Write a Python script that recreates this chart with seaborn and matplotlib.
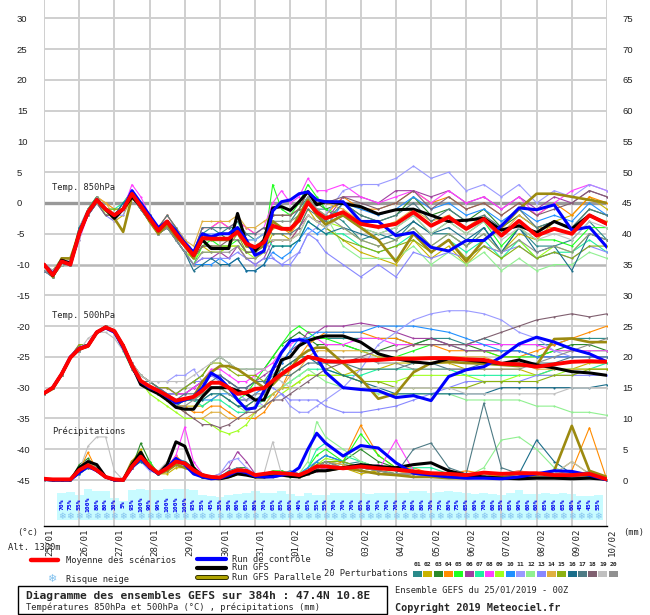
import matplotlib
matplotlib.use('Agg')
import matplotlib.pyplot as plt
import matplotlib.transforms as mtransforms
import matplotlib.patheffects as pe
from matplotlib.lines import Line2D
from matplotlib.patches import Rectangle
import seaborn as sns

# forecast steps: 6h up to 192h, then 12h up to 384h
HOURS = list(range(0, 193, 6)) + list(range(204, 385, 12))

T850_MEAN = [-10, -11.7, -9.5, -10, -5, -1.5, 0.5, -1, -2, -1, 1.5, -0.5, -2.5, -4.5, -3, -5, -6.8, -8.5,
             -5.7, -5.8, -5.8, -5.8, -4.7, -6.6, -7.2, -6.4, -3.7, -4.2, -4.2, -2.8, 0.1, -1.5, -2.5,
             -1.5, -3.4, -3.9, -3.4, -1.5, -3.7, -2.3, -4.2, -2.6, -5.3, -2.9, -5.3, -4.2, -5.0, -2.0, -3.4]
T850_CTRL = [-10, -11.5, -9.5, -10, -5, -1.5, 0.5, -1, -2, -1, 2, 0, -2, -4, -3, -4.5, -6.5, -8,
             -5, -5.5, -5, -5, -4, -6, -8.5, -7.8, -1.3, 0.2, 0.5, 1.5, 1.8, 0.5, 0.2,
             0.2, -3.0, -3.0, -5.3, -4.8, -7.2, -7.8, -6.1, -6.1, -3.7, -0.8, -1.1, -0.3, -4.4, -3.9, -7.2]
T850_GFS = [-10, -11.8, -9.3, -9.8, -5, -1.5, 0.5, -1, -2.5, -1, 1, -0.5, -2.5, -4.5, -3, -5, -6.5, -8.5,
            -6, -7.4, -7.4, -7.4, -1.7, -6.5, -7.8, -6, -0.8, -0.6, -1.2, 0.2, 1.8, -0.3, 0.2,
            -0.1, -0.6, -1.8, -1.1, -1.0, -2.0, -3.0, -2.8, -2.5, -4.4, -3.7, -4.8, -3.0, -4.2, -2.0, -3.4]
T850_PARA = [-10, -12, -9, -9, -5, -1.5, 0.3, -1.2, -2.5, -4.7, 1, -0.5, -3, -5, -3.5, -5.5, -7, -9,
             -5, -6, -6, -6, -4, -7, -7.5, -7, -3, -4, -4.5, -2, 0.5, -2, -3.5,
             -2, -4, -6, -9.5, -5, -8, -6, -9.5, -6, -4, -1, 1.5, 1.5, 1, 0.5, 0]
T850_PERT = [
    [-10, -12, -9, -10, -5, -1, 1, -1, -2, -1, 2, 0, -2, -4, -3, -4, -6, -8, -5, -4, -5, -4, -4, -5, -6, -5,
     -3, -3, -3, -1, 1, -1, -1, -3, -6, -5, -6, -3, -5, -5, -7, -4, -8, -4, -7, -7, -6, -3, -6],
    [-10, -11, -9, -9, -4, -2, 0, -1, -3, -2, 1, -1, -3, -5, -4, -6, -8, -9, -7, -8, -8, -7, -7, -9, -9, -8,
     -5, -5, -6, -4, -1, -3, -4, -6, -8, -9, -10, -6, -9, -7, -10, -7, -8, -5, -6, -3, -2, 1, -1],
    [-11, -12, -10, -10, -6, -1, 0, -2, -2, 0, 2, 0, -2, -5, -3, -5, -7, -9, -6, -6, -5, -6, -4, -7, -7, -6,
     -2, -2, -2, -1, 2, 0, -1, 0, -2, -3, -2, 1, -2, -1, -3, -1, -4, -2, -4, -3, -4, -1, -2],
    [-10, -12, -10, -10, -5, -2, 1, 0, -1, -1, 2, 0, -2, -4, -2, -4, -6, -8, -4, -4, -3, -4, -3, -4, -5, -4,
     -4, -4, -5, -3, 0, -1, -2, 1, -1, -1, 0, 2, 0, 1, -1, 0, -2, 0, -2, 0, -2, 1, 0],
    [-10, -11, -9, -10, -4, -1, 1, -1, -2, -1, 1, -1, -3, -5, -4, -6, -8, -10, -7, -6, -7, -7, -6, -8, -8, -7,
     3, -1, -2, 0, 3, 1, -1, -2, -4, -5, -4, -2, -5, -3, -5, -3, -7, -4, -6, -6, -7, -4, -4],
    [-11, -12, -10, -9, -5, -2, 0, -1, -2, -1, 1, -1, -3, -5, -4, -6, -8, -10, -9, -9, -8, -9, -7, -9, -10, -9,
     -6, -6, -6, -4, -2, -3, -3, 1, 1, 0, 2, 2, 1, 2, 0, 1, -1, 1, -1, 1, 0, 2, 1],
    [-10, -12, -9, -10, -5, -1, 1, -1, -1, 0, 2, 0, -2, -4, -3, -4, -6, -8, -5, -5, -5, -5, -3, -6, -6, -5,
     -7, -7, -7, -6, -3, -4, -5, -5, -7, -8, -7, -5, -8, -6, -8, -6, -9, -6, -9, -8, -8, -6, -8],
    [-10, -11, -10, -10, -6, -2, 0, -1, -3, -1, 3, 1, -2, -4, -2, -4, -6, -8, -4, -4, -3, -4, -3, -4, -5, -4,
     0, 2, 0, 1, 4, 2, 2, 3, 1, 0, 1, 2, 0, 2, 0, 1, -1, 1, -2, 0, 2, 3, 2],
    [-10, -12, -9, -9, -5, -1, 1, -2, -2, -1, 1, -1, -3, -5, -4, -6, -8, -9, -8, -8, -8, -7, -7, -8, -9, -8,
     -4, -4, -4, -3, 0, -2, -3, -4, -6, -7, -6, -4, -7, -5, -7, -5, -8, -6, -9, -7, -8, -5, -6],
    [-11, -12, -10, -10, -5, -2, 0, -1, -2, 0, 1, -1, -3, -5, -3, -6, -8, -10, -10, -10, -9, -10, -9, -11, -11, -10,
     -8, -9, -8, -6, -4, -5, -4, 0, -1, -2, -1, 1, -1, 0, -2, -1, -3, -1, -3, -2, -3, 0, -2],
    [-10, -11, -9, -10, -4, -1, 0, -1, -2, -2, 2, 0, -2, -4, -3, -4, -6, -8, -5, -5, -5, -5, -4, -6, -6, -5,
     -9, -10, -9, -8, -5, -4, -2, 2, 3, 3, 4, 6, 4, 5, 2, 3, 1, 3, 0, 2, 1, 3, 2],
    [-10, -12, -10, -10, -5, -2, 1, -1, -2, -1, 2, 0, -3, -4, -3, -5, -7, -9, -6, -6, -6, -6, -5, -7, -7, -6,
     -3, -3, -3, -2, 1, -1, -2, -7, -9, -9, -9, -7, -10, -8, -10, -8, -11, -9, -11, -10, -10, -8, -9],
    [-11, -12, -9, -10, -6, -1, 0, -2, -3, -1, 1, -1, -3, -5, -4, -6, -8, -10, -9, -9, -9, -9, -8, -9, -10, -9,
     -9, -10, -10, -8, -5, -6, -8, -10, -12, -10, -12, -8, -9, -8, -9, -7, -8, -7, -9, -8, -9, -7, -8],
    [-10, -11, -9, -9, -5, -2, 1, 0, -2, -1, 2, 0, -2, -4, -2, -4, -6, -7, -3, -3, -3, -3, -2, -4, -4, -3,
     -2, -2, -2, -1, 2, 0, 0, -1, -3, -4, -3, -1, -3, -2, -4, -2, -5, -2, -4, -4, -5, -2, -3],
    [-10, -12, -10, -10, -5, -1, 0, -1, -1, -1, 1, -1, -3, -5, -3, -5, -7, -9, -7, -7, -7, -7, -5, -8, -8, -7,
     -6, -6, -6, -5, -2, -3, -4, -6, -7, -8, -7, -6, -8, -6, -9, -7, -9, -7, -9, -8, -9, -7, -7],
    [-11, -12, -9, -10, -4, -2, 0, -1, -2, 0, 1, -1, -3, -5, -4, -6, -8, -11, -10, -9, -10, -10, -9, -11, -11, -10,
     -7, -7, -7, -6, -3, -4, -5, -4, -5, -6, -5, -3, -5, -4, -6, -4, -8, -4, -8, -7, -11, -5, -6],
    [-10, -11, -10, -10, -5, -1, 1, -1, -2, -1, 2, 0, -2, -4, -2, -4, -7, -8, -4, -4, -4, -4, -3, -5, -5, -4,
     -5, -5, -5, -4, -1, -2, -3, 0, -2, -3, -2, 0, -3, -1, -3, -2, -4, -1, -4, -3, -4, -1, -2],
    [-10, -12, -9, -10, -5, -2, 0, -2, -2, -1, 1, -1, -3, -5, -3, -5, -7, -9, -7, -7, -7, -6, -6, -8, -8, -7,
     -2, -2, -2, -1, 2, 0, 0, 1, 0, -1, 0, 2, -1, 1, -1, 0, -2, 0, -2, -1, 0, 2, 1],
    [-10, -11, -10, -9, -6, -1, 0, -1, -3, -1, 2, 0, -3, -5, -3, -5, -7, -9, -6, -6, -6, -6, -5, -7, -7, -6,
     -6, -6, -6, -5, -2, -3, -4, -2, -4, -5, -4, -2, -5, -3, -5, -3, -6, -4, -6, -5, -6, -3, -4],
    [-11, -12, -9, -10, -5, -2, 1, -1, -2, -1, 1, -1, -3, -5, -4, -6, -8, -10, -8, -8, -8, -8, -7, -9, -9, -8,
     -3, -3, -3, -2, 1, -1, -2, -4, -6, -7, -6, -4, -7, -5, -7, -5, -8, -6, -8, -7, -8, -5, -6],
]

T500_MEAN = [-30.9, -30, -27.8, -25.1, -23.7, -23.2, -21, -20.2, -20.8, -23.2, -26.4, -28.9, -29.8, -30.5,
             -31.3, -32.1, -31.8, -31.5, -30.5, -29.2, -29.2, -30, -31, -30.8, -30.2, -30.1, -28.9, -27.8,
             -26.8, -26, -25, -25.3, -25.7, -25.8, -25.6, -25.5, -25.3, -25.3, -25.2, -25.2, -25.4, -25.5,
             -26.1, -26.2, -26.6, -26.2, -25.8, -25.7, -25.8]
T500_CTRL = [-30.9, -30, -27.8, -25, -23.6, -23.1, -21, -20.3, -21, -23.5, -26.5, -29, -30, -30.5, -31.5,
             -32.5, -32, -31.5, -30, -27.6, -28.5, -30, -32, -33.5, -33.3, -30.5, -27, -24.3, -22.4, -22.2,
             -22.5, -25, -27.5, -30, -30.3, -30.5, -31.6, -31.3, -32.1, -28.2, -27.1, -26.6, -25, -22.9,
             -21.8, -22.6, -23.7, -24.5, -25.8]
T500_GFS = [-30.9, -30, -27.8, -25.1, -23.7, -23.2, -21, -20.2, -20.8, -23.2, -26.4, -29.5, -30.3, -31, -32,
            -33.2, -33.5, -33.5, -31.5, -30, -30, -30, -30.5, -31, -32, -32, -29, -25.5, -25, -23.2, -22.4,
            -21.9, -21.6, -21.6, -22.6, -24.5, -25.3, -25.8, -26.1, -25.3, -25.5, -25.8, -26.1, -25.5,
            -26.3, -26.8, -27.4, -27.6, -28.0]
T500_PARA = [-31, -30.2, -27.9, -25.2, -23.8, -23.3, -21.1, -20.3, -20.9, -23.4, -26.5, -29, -30, -30.5,
             -31.5, -32.5, -32, -31.5, -29, -27.5, -26.5, -26.5, -27, -28, -29, -30, -29.5, -28, -27, -25,
             -24, -23.5, -23.5, -26, -28.5, -31.8, -31, -27.5, -26, -25.8, -26, -26.1, -26.3, -26.5, -26.3,
             -22.1, -22, -22.6, -22.6]
T500_PERT = [
    [-31, -30, -28, -25, -24, -23, -21, -20, -21, -23, -26, -28, -29, -30, -31, -31, -31, -30, -29, -28, -28, -29,
     -30, -30, -29, -29, -27, -26, -24, -23, -22, -22, -22, -22, -22, -22, -22, -23, -22, -22, -23, -22, -23, -23,
     -23, -23, -22, -22, -22],
    [-31, -30, -28, -25, -24, -23, -21, -20, -21, -23, -27, -29, -30, -31, -32, -33, -33, -33, -33, -32, -31, -32,
     -33, -33, -32, -32, -31, -30, -30, -29, -28, -28, -28, -28, -27, -27, -26, -26, -26, -26, -27, -27, -27, -27,
     -28, -27, -27, -26, -26],
    [-31, -30, -28, -25, -23, -23, -21, -20, -21, -23, -26, -28, -29, -30, -30, -31, -30, -29, -28, -26, -25, -26,
     -27, -27, -27, -27, -25, -23, -22, -21, -22, -23, -23, -23, -24, -24, -23, -23, -22, -23, -23, -24, -24, -24,
     -25, -24, -23, -23, -24],
    [-31, -30, -28, -25, -24, -23, -21, -20, -21, -23, -27, -29, -30, -31, -32, -33, -33, -34, -34, -33, -33, -34,
     -35, -35, -35, -34, -32, -30, -27, -25, -23, -22, -21, -21, -21, -22, -22, -23, -23, -24, -24, -24, -25, -25,
     -24, -23, -22, -21, -20],
    [-31, -30, -28, -25, -24, -23, -21, -20, -21, -24, -27, -29, -30, -31, -32, -32, -32, -32, -31, -30, -30, -31,
     -32, -31, -29, -27, -25, -23, -21, -20, -21, -22, -22, -23, -24, -25, -25, -24, -23, -23, -24, -24, -25, -25,
     -25, -24, -24, -24, -24],
    [-31, -30, -28, -25, -24, -23, -21, -20, -21, -23, -26, -29, -30, -30, -31, -31, -31, -30, -29, -28, -28, -29,
     -30, -30, -29, -28, -27, -26, -24, -23, -21, -21, -20, -20, -19.5, -20, -21, -22, -22, -23, -24, -24, -24,
     -24, -25, -25, -25, -25, -25],
    [-31, -30, -28, -25, -24, -23, -21, -20, -21, -23, -27, -29, -30, -31, -32, -33, -32, -32, -33, -32, -32, -33,
     -34, -34, -33, -32, -31, -30, -29, -28, -27, -27, -27, -28, -28, -27, -27, -27, -27, -27, -28, -28, -28, -28,
     -28, -27, -27, -27, -26],
    [-31, -30, -28, -25, -23, -23, -21, -20, -21, -23, -26, -28, -29, -30, -30, -31, -31, -30, -29, -27, -27, -28,
     -29, -29, -28, -27, -26, -24, -23, -22, -22, -22, -23, -23, -22, -22, -23, -23, -23, -23, -23, -23, -23, -23,
     -23, -24, -24, -24, -24],
    [-31, -30, -28, -25, -24, -23, -21, -20, -21, -23, -27, -29, -31, -32, -33, -34, -35, -35, -35, -36, -37, -37.5,
     -37, -36, -34, -33, -32, -31, -30, -29, -28, -28, -28, -28, -29, -29, -29, -28, -28, -28, -28, -29, -29, -28,
     -28, -28, -27, -27, -27],
    [-31, -30, -28, -25, -24, -23, -21, -20, -21, -23, -27, -29, -30, -31, -31, -32, -32, -32, -32, -32, -31, -31,
     -32, -32, -31, -30, -28, -26, -24, -22, -22, -21, -21, -21, -21, -20, -20, -20, -20.5, -21, -22, -23, -24,
     -24, -25, -25, -25, -25, -25],
    [-31, -30, -28, -25, -24, -23, -21, -20, -21, -23, -26, -28, -29, -29, -29, -28, -28, -27, -29, -30, -30, -30,
     -31, -32, -32, -33, -32, -31, -33, -34, -34, -33, -32, -30, -27, -23, -21, -19, -18, -17.5, -17.5, -18, -19,
     -21, -22, -24, -25, -25, -25],
    [-31, -30, -28, -25, -24, -23, -21, -20, -21, -23, -27, -29, -30, -31, -32, -33, -32, -32, -32, -31, -31, -32,
     -33, -34, -33, -33, -31, -30, -29, -28, -27, -28, -29, -30, -30, -31, -31, -31, -31, -31, -32, -32, -32, -32,
     -33, -33, -34, -34, -34.5],
    [-31, -30, -28, -25, -24, -23, -21, -20, -21, -23, -26, -29, -30, -30, -31, -31, -30, -29, -29, -28, -29, -30,
     -31, -31, -30, -30, -30, -31, -32, -32, -32, -32, -33, -34, -34, -33.5, -33, -32, -31, -30, -29, -29, -29,
     -29, -28, -28, -28, -28, -28],
    [-31, -30, -28, -25, -24, -23, -21, -20, -21, -23, -27, -29, -30, -31, -32, -33, -34, -35, -35, -34, -34, -35,
     -35, -35, -34, -33, -31, -30, -28, -27, -25, -24, -24, -24, -24, -25, -25, -25, -25, -25, -25, -25, -26, -26,
     -27, -27, -27, -27, -27],
    [-31, -30, -28, -25, -23, -23, -21, -20, -21, -23, -26, -28, -29, -30, -30, -31, -30, -29, -28, -26, -26, -27,
     -28, -28, -28, -29, -28, -27, -26, -25, -25, -25, -26, -28, -29, -29, -30, -30, -30, -30, -30, -29, -29, -29,
     -29, -28, -28, -27, -27],
    [-31, -30, -28, -25, -24, -23, -21, -20, -21, -23, -27, -29, -30, -31, -32, -33, -32, -32, -32, -31, -31, -32,
     -33, -33, -32, -31, -29, -27, -26, -25, -25, -26, -27, -28, -29, -30, -31, -31, -31, -31, -31, -31, -30, -30,
     -30, -30, -30, -30, -29.5],
    [-31, -30, -28, -25, -24, -23, -21, -20, -21, -23, -26, -29, -29, -30, -31, -32, -31, -31, -30, -29, -28, -29,
     -30, -30, -29, -29, -29, -28, -28, -27, -26, -26, -26, -26, -27, -27, -27, -26, -26, -27, -27, -26, -26, -26,
     -26, -26, -25, -25, -25],
    [-31, -30, -28, -25, -24, -23, -21, -20, -21, -23, -27, -29, -30, -31, -32, -33, -34, -35, -36, -36, -36.5, -36,
     -35, -34, -34, -33, -32, -32, -31, -30, -29, -28, -27, -26, -25, -24, -24, -23, -23, -23, -23, -22, -21, -20,
     -19, -18.5, -18, -18.5, -18],
    [-31, -30, -28, -25, -24, -22, -21, -21, -22, -24, -26, -28, -29, -29, -29, -29, -29, -28, -27, -26, -25, -26,
     -27, -27, -27, -27, -28, -29, -30, -30, -30, -30, -30, -30, -30, -30, -30, -30, -30, -30, -31, -31, -31, -31,
     -31, -31, -30, -30, -30],
    [-31, -30, -28, -25, -24, -23, -21, -20, -21, -23, -27, -29, -30, -31, -32, -33, -33, -32, -31, -30, -30, -31,
     -32, -32, -31, -31, -29, -28, -27, -26, -25, -25, -25, -25, -25, -26, -26, -27, -27, -27, -27, -27, -27, -27,
     -26, -25, -24, -23, -22],
]

PRECIP_MEAN = [0.2, 0.1, 0.1, 0.1, 1.6, 2.4, 1.6, 0.5, 0.1, 0, 2.2, 3.8, 2.2, 1.1, 1.9, 3.0, 2.7, 1.6,
               0.8, 0.5, 0.4, 1.1, 1.6, 1.5, 0.8, 1.0, 1.2, 1.1, 1.0, 0.8, 1.4, 2.2, 2.2,
               1.9, 2.2, 1.9, 1.7, 1.4, 1.1, 1.0, 0.8, 1.2, 1.0, 1.1, 1.1, 0.8, 0.8, 1.0, 0.1]
PRECIP_CTRL = [0.1, 0, 0, 0, 1.2, 2.2, 1.5, 0.5, 0, 0, 2, 3.5, 2, 1, 2, 3.5, 2.5, 1,
               0.5, 0.2, 0.3, 0.8, 1.5, 1.2, 0.6, 0.5, 0.5, 0.8, 1, 2, 5, 7.6, 6,
               3.9, 5.6, 5.2, 2.8, 1.1, 0.8, 0.5, 0.3, 0.3, 0.2, 0.5, 1, 1.5, 1.4, 0.8, 0]
PRECIP_GFS = [0.1, 0, 0, 0, 2, 3, 2.5, 0.5, 0, 0, 2.5, 4.5, 2, 1, 2.5, 6.2, 5.5, 2,
              0.5, 0.3, 0.2, 0.5, 1, 0.8, 0.5, 0.5, 0.6, 0.8, 0.6, 0.5, 1, 1.5, 1.5,
              2, 2.5, 2.2, 2, 2.5, 2.8, 1.5, 0.8, 0.5, 0.3, 0.2, 0.3, 0.3, 0.2, 0.3, 0.1]
PRECIP_PARA = [0.1, 0, 0, 0, 1.5, 2.5, 1.5, 0.5, 0, 0, 3, 4, 2.5, 1, 1.5, 2.5, 2, 1.5,
               0.5, 0.3, 0.2, 0.5, 1, 1, 0.5, 0.5, 0.8, 1, 0.8, 0.5, 1, 1.5, 1.5,
               2, 1.5, 1, 0.8, 0.5, 0.5, 0.3, 0.3, 0.5, 0.5, 0.5, 0.8, 1.5, 8.8, 1.5, 0.5]
PRECIP_PERT = [
    [0, 0, 0, 0, 1, 2, 2, 0.5, 0, 0, 2, 4, 2, 1, 1.5, 3, 2.5, 1, 0.5, 0.3, 0.5, 1.5, 2, 1.5, 1, 1,
     1, 1.5, 1, 0.5, 1, 2, 3, 2.5, 3, 2, 1.5, 1.5, 1, 1, 0.5, 0.5, 0.8, 1, 1, 0.5, 0.5, 1, 0],
    [0, 0, 0, 0, 2, 3, 1.5, 0.5, 0, 0, 3, 5, 2, 1, 1, 2, 2, 1.5, 1, 0.5, 0.3, 1, 1.5, 1, 0.5, 0.5,
     0.5, 1, 1, 1, 1.5, 2, 2.5, 2, 1, 1.5, 2, 1, 1, 0.5, 0.5, 1, 0.5, 0.5, 0.5, 1, 3, 1, 0],
    [0, 0, 0, 0, 2.5, 3.5, 2, 0.5, 0, 0, 2, 6, 3, 1, 2, 3.5, 3, 2, 0.5, 0.5, 0.5, 1, 2, 2, 0.5, 0.5,
     1, 1, 0.5, 0.5, 1.5, 3, 4, 3, 5, 3, 2, 1.5, 1, 0.5, 0.5, 1, 1, 0.5, 0.5, 0.5, 0.5, 0.5, 0],
    [0, 0, 0, 0, 1.5, 4.5, 1.5, 0.5, 0, 0, 2, 3.5, 2, 1, 2, 4, 2.5, 1.5, 0.5, 0.3, 0.3, 1, 1.5, 1, 0.5, 0.5,
     1, 1, 1.5, 1, 1, 2, 2, 3, 8.9, 4, 2, 2, 1, 1, 1.5, 1, 0.5, 0.5, 0.5, 1, 1.5, 8.5, 0],
    [0, 0, 0, 0, 1, 2, 2, 0.5, 0, 0, 2.5, 4, 3, 1, 2, 3, 3, 2, 1, 0.5, 0.5, 1, 1.5, 1, 1, 1,
     1.5, 1.5, 1, 0.5, 2, 4, 5, 3, 7.5, 4, 2, 1.5, 1, 0.5, 0.5, 0.5, 0.5, 0.5, 0.5, 0.5, 1, 0.5, 0],
    [0, 0, 0, 0, 1.5, 2, 1.5, 0.5, 0, 0, 2, 4, 2, 1, 2, 3, 3, 2, 1, 0.5, 1, 2, 4.6, 3, 1, 1,
     1, 1, 1, 0.5, 1, 1.5, 2, 2, 2, 2.5, 1.5, 1, 1, 0.5, 0.5, 0.5, 0.5, 0.5, 0.5, 0.5, 0.5, 0.5, 0],
    [0, 0, 0, 0, 1, 2.5, 2, 0.5, 0, 0, 2, 3, 2, 1, 2, 3, 3, 2, 0.5, 0.5, 0.5, 1, 1.5, 1, 1, 1,
     1, 1, 1, 1, 2, 5, 6, 4, 3, 2, 1.5, 2, 2, 1, 1, 0.5, 0.5, 0.5, 0.5, 0.5, 0.5, 0.5, 0],
    [0, 0, 0, 0, 2, 2.5, 1.5, 0.5, 0, 0, 2, 4, 2, 1, 2, 4, 8.6, 3, 1, 0.5, 0.5, 1, 2, 1.5, 1, 1,
     1, 1, 1, 0.5, 1, 1.5, 2, 2, 2, 1.5, 6.5, 1.5, 1, 0.5, 0.5, 1, 1, 1.5, 1, 0.5, 0.5, 0.5, 0],
    [0, 0, 0, 0, 1.5, 2, 1.5, 0.5, 0, 0, 2.5, 3.5, 2, 1, 1.5, 2.5, 2, 1.5, 0.5, 0.5, 0.5, 1, 1.5, 1, 1, 1,
     1, 1, 1, 0.5, 1.5, 2.5, 3.5, 3, 2, 1.5, 1, 1, 1, 0.5, 0.5, 0.5, 0.5, 0.5, 0.5, 0.5, 0.5, 0.5, 0],
    [0, 0, 0, 0, 1.5, 3, 2, 0.5, 0, 0, 2, 4.5, 2.5, 1, 2, 3.5, 3, 2, 0.5, 0.5, 0.5, 1, 2, 1.5, 1, 0.5,
     1, 1, 1.5, 1, 2, 3, 4, 3, 2, 1.5, 1, 1, 1, 1, 0.5, 0.5, 0.5, 0.5, 0.5, 0.5, 0.5, 0.5, 0],
    [0, 0, 0, 0, 1, 2, 1.5, 0.5, 0, 0, 2, 3, 1.5, 1, 2, 3, 2.5, 2, 1, 0.5, 1, 3, 3.5, 2, 1, 1,
     1, 1, 1, 0.5, 1, 2, 2, 2, 1.5, 1, 1, 0.5, 0.5, 0.5, 0.5, 0.5, 0.5, 1, 1, 1, 0.5, 0.5, 0],
    [0, 0, 0, 0, 1.5, 2.5, 2, 0.5, 0, 0, 2.5, 4, 2, 1, 2, 3, 3, 1.5, 0.5, 0.5, 0.5, 1, 1.5, 1, 1, 1,
     1, 1, 1, 1, 3, 9.5, 7, 5, 3, 2, 1, 1, 1, 0.5, 0.5, 2, 6.5, 7, 5, 2, 1, 0.5, 0],
    [0, 0, 0, 0, 1, 2, 2, 0.5, 0, 0, 2, 3.5, 2, 1, 1.5, 2.5, 2, 1.5, 0.5, 0.5, 0.5, 1, 1.5, 1, 1, 1,
     1, 1, 1, 0.5, 1, 2, 2.5, 2, 1.5, 1, 1, 0.5, 1, 1, 0.5, 0.5, 0.5, 0.5, 0.5, 1, 1, 0.5, 0],
    [0, 0, 0, 0, 2, 3, 2, 0.5, 0, 0, 2, 4, 2, 1, 2, 3, 2.5, 1.5, 0.5, 0.5, 0.5, 1, 1.5, 1, 1, 1,
     1, 1, 1, 0.5, 1, 2, 3, 2.5, 2, 1.5, 1, 1.5, 1, 1, 0.5, 1, 1, 1.5, 1, 1, 0.5, 0.5, 0],
    [0, 0, 0, 0, 1.5, 2.5, 1.5, 0.5, 0, 0, 2, 3.5, 2, 1, 2, 3, 3, 2, 1, 0.5, 0.5, 1, 1.5, 1, 1, 1,
     1, 1, 1, 0.5, 1.5, 2.5, 3, 3, 2, 1.5, 1, 1, 1, 0.5, 0.5, 0.5, 0.5, 0.5, 0.5, 0.5, 0.5, 1, 0],
    [0, 0, 0, 0, 1, 2, 1.5, 0.5, 0, 0, 2, 3, 2, 1, 2, 3, 3, 2, 1, 0.5, 0.5, 1, 1.5, 1, 1, 1,
     1, 1, 1, 0.5, 1, 2, 3, 2, 1.5, 1, 1, 1, 1, 1, 1, 0.5, 0.5, 1, 6.5, 3, 1, 0.5, 0],
    [0, 0, 0, 0, 1.5, 2.5, 2, 0.5, 0, 0, 2.5, 4, 2, 1, 2, 3, 2.5, 2, 1, 0.5, 0.5, 1, 2, 1.5, 1, 1,
     1, 1, 1, 0.5, 1, 2, 2.5, 2, 2, 1.5, 1, 5, 6, 2, 1, 12.5, 2, 1, 0.5, 0.5, 0.5, 0.5, 0],
    [0, 0, 0, 0, 1.5, 2, 1.5, 0.5, 0, 0, 2, 3.5, 2, 1, 1.5, 2.5, 2.5, 1.5, 0.5, 0.5, 0.5, 1, 1.5, 1, 1, 1,
     1, 1, 1, 0.5, 1, 2, 2.5, 2, 1.5, 1, 1, 1, 1, 0.5, 0.5, 0.5, 0.5, 0.5, 0.5, 0.5, 0.5, 1, 0],
    [0, 0, 0, 0, 1.5, 5.5, 7, 7, 1.5, 0, 2, 3.5, 2, 1.5, 3, 3, 2, 1.5, 0.5, 0.5, 0.5, 1, 1.5, 1, 1, 1,
     6.2, 1, 1, 0.5, 1, 2, 2.5, 2, 1.5, 1, 1, 1, 1, 1, 1, 1, 1, 1, 1, 1, 3, 1, 0],
    [0, 0, 0, 0, 1.5, 2.5, 2, 0.5, 0, 0, 2, 4, 2, 1, 2, 3, 2.5, 1.5, 1, 0.5, 0.5, 1, 2, 1.5, 1, 1,
     1, 1, 1, 0.5, 1, 2, 3, 2, 2, 1.5, 1, 1, 1, 1, 0.5, 0.5, 0.5, 0.5, 0.5, 0.5, 0.5, 1.5, 0],
]

SNOW_HOURS = list(range(12, 379, 6))
SNOW_PCT = [70, 75, 55, 100, 80, 80, 30, 5, 95, 100, 90, 90, 100, 100, 100, 95, 55, 45, 35, 50,
            60, 65, 80, 70, 65, 85, 60, 40, 65, 55, 55,
            70, 70, 70, 65, 60, 70, 70, 70, 70, 80, 80, 70, 75, 80, 75, 65, 60, 70, 60, 55, 65, 90,
            60, 60, 65, 60, 65, 60, 45, 45, 55]

DATE_HOURS = list(range(0, 385, 24))
DATE_LABELS = ['25/01', '26/01', '27/01', '28/01', '29/01', '30/01', '31/01', '01/02', '02/02',
               '03/02', '04/02', '05/02', '06/02', '07/02', '08/02', '09/02', '10/02']
LEFT_TICKS = [30, 25, 20, 15, 10, 5, 0, -5, -10, -15, -20, -25, -30, -35, -40, -45]
RIGHT_TICKS = [75, 70, 65, 60, 55, 50, 45, 40, 35, 30, 25, 20, 15, 10, 5, 0]
PERT_NAMES = ['01', '02', '03', '04', '05', '06', '07', '08', '09', '10',
              '11', '12', '13', '14', '15', '16', '17', '18', '19', '20']

PERT_COLORS = ['#2a8a8a', '#c8b400', '#2a8a2a', '#ff8c00', '#20ff20', '#a040a0', '#20f0a0', '#ff40ff',
               '#a0ff20', '#2090ff', '#9a9aff', '#90f090', '#8888ff', '#e0b040', '#8cb010', '#1a6e8a',
               '#4e7b85', '#806070', '#c0c0c0', '#909090']
OLIVE = '#9c8a10'
MONO = 'DejaVu Sans Mono'

sns.set_style('white')
plt.rcParams['font.family'] = [MONO]

W, H = 650, 615
fig = plt.figure(figsize=(W / 100, H / 100), dpi=100)


def fx(px):
    return px / W


def fy(py):
    return 1 - py / H


YLO, YHI = -52.47, 32.97
ax = fig.add_axes([fx(44), fy(526), fx(607) - fx(44), fy(0) - fy(526)])
ax2 = ax.twinx()

# grid
for v in LEFT_TICKS:
    if v == 0:
        ax.axhline(v, color='#999999', lw=2.4, zorder=0)
    elif v == -10:
        ax.axhline(v, color='#b8b8b8', lw=1.8, zorder=0)
    else:
        ax.axhline(v, color='#cfcfcf', lw=1.4, zorder=0)
for h in DATE_HOURS:
    ax.axvline(h, color='#cfcfcf', lw=1.4, zorder=0)

thin = dict(linewidth=0.8, marker='.', markersize=3, markeredgewidth=0, legend=False)
for series in (T850_PERT, T500_PERT):
    for vals, c in zip(series, PERT_COLORS):
        sns.lineplot(x=HOURS, y=vals, ax=ax, color=c, zorder=2, **thin)
for vals, c in zip(PRECIP_PERT, PERT_COLORS):
    sns.lineplot(x=HOURS, y=vals, ax=ax2, color=c, zorder=2, **thin)

for target, para, gfs, ctrl, mean in ((ax, T850_PARA, T850_GFS, T850_CTRL, T850_MEAN),
                                      (ax, T500_PARA, T500_GFS, T500_CTRL, T500_MEAN),
                                      (ax2, PRECIP_PARA, PRECIP_GFS, PRECIP_CTRL, PRECIP_MEAN)):
    sns.lineplot(x=HOURS, y=para, ax=target, color=OLIVE, linewidth=1.9, legend=False, zorder=3)
    sns.lineplot(x=HOURS, y=gfs, ax=target, color='black', linewidth=2.2, legend=False, zorder=4)
    sns.lineplot(x=HOURS, y=ctrl, ax=target, color='#0000ff', linewidth=2.2, legend=False, zorder=5)
    sns.lineplot(x=HOURS, y=mean, ax=target, color='#ff0000', linewidth=2.8, legend=False, zorder=6)

for a, lo, hi in ((ax, YLO, YHI), (ax2, YLO + 45, YHI + 45)):
    a.set_xlim(0, 384)
    a.set_ylim(lo, hi)
    a.set_xticks([])
    a.set_xlabel('')
    a.set_ylabel('')
    for s in a.spines.values():
        s.set_visible(False)
ax.spines['bottom'].set_visible(True)
ax.spines['bottom'].set_color('black')
ax.spines['bottom'].set_linewidth(1.0)
ax.patch.set_alpha(0)

ax.set_yticks(LEFT_TICKS)
ax.set_yticklabels([str(v) for v in LEFT_TICKS], family='Liberation Sans', fontsize=6.8, color='#222222')
ax.tick_params(axis='y', length=0, pad=19.5)
for t in ax.get_yticklabels():
    t.set_ha('left')
ax2.set_yticks(RIGHT_TICKS)
ax2.set_yticklabels([str(v) for v in RIGHT_TICKS], family='Liberation Sans', fontsize=6.8, color='#222222')
ax2.tick_params(axis='y', length=0, pad=11)

# snow risk strip
axs = fig.add_axes([fx(44), fy(520), fx(607) - fx(44), fy(489) - fy(520)])
axs.set_xlim(0, 384)
axs.set_ylim(-150, 100)
axs.axis('off')
axs.fill_between([SNOW_HOURS[0] - 3, SNOW_HOURS[-1] + 3], -150, 0, color='#c8fbff', lw=0, zorder=1)
axs.bar(SNOW_HOURS, SNOW_PCT, width=6, color='#c8fbff', linewidth=0, zorder=1)
for h in DATE_HOURS:
    axs.axvline(h, color='#cfcfcf', lw=1.4, zorder=2)
xt = axs.get_xaxis_transform()
for h, p in zip(SNOW_HOURS, SNOW_PCT):
    axs.text(h, 0.5, f'{p}%', transform=xt, rotation=90, ha='center', va='center',
             fontsize=4.6, color='#0000ee', fontweight='bold', zorder=3)
    axs.text(h, 0.1, '\u2744', transform=xt, ha='center', va='center', family='DejaVu Sans',
             fontsize=6.5, color='#7fc0ee', zorder=3)

# dates
dtrans = mtransforms.offset_copy(mtransforms.blended_transform_factory(ax.transData, fig.transFigure),
                                 fig=fig, x=5, y=0, units='dots')
for h, lab in zip(DATE_HOURS, DATE_LABELS):
    fig.text(h, fy(529), lab, transform=dtrans, rotation=90, ha='center', va='top', fontsize=6.6)

txt = dict(fontsize=6.3, va='center', ha='left')
fig.text(fx(52), fy(188), 'Temp. 850hPa', **txt)
fig.text(fx(52), fy(316), 'Temp. 500hPa', **txt)
fig.text(fx(52), fy(431), 'Précipitations', **txt)
fig.text(fx(17), fy(533), '(°c)', **txt)
fig.text(fx(623), fy(533), '(mm)', **txt)
fig.text(fx(8), fy(548), 'Alt. 1300m', **txt)

# legend
fig.add_artist(Line2D([fx(31), fx(58)], [fy(560), fy(560)], color='#ff0000', lw=3.2))
fig.text(fx(66), fy(560), 'Moyenne des scénarios', **txt)
fig.text(fx(52), fy(579), '\u2744', family='DejaVu Sans', fontsize=8, color='#7fc0ee',
         ha='center', va='center')
fig.text(fx(66), fy(579), 'Risque neige', **txt)
fig.add_artist(Line2D([fx(197), fx(226)], [fy(559), fy(559)], color='#0000ff', lw=3))
fig.text(fx(232), fy(559), 'Run de contrôle', **txt)
fig.add_artist(Line2D([fx(197), fx(226)], [fy(568), fy(568)], color='black', lw=3))
fig.text(fx(232), fy(568), 'Run GFS', **txt)
fig.add_artist(Line2D([fx(197), fx(226)], [fy(577), fy(577)], color='#b0a400', lw=2.2,
                      path_effects=[pe.Stroke(linewidth=3.6, foreground='#303000'), pe.Normal()]))
fig.text(fx(232), fy(578), 'Run GFS Parallele', **txt)
fig.text(fx(324), fy(573), '20 Perturbations', **txt)
for i, (name, c) in enumerate(zip(PERT_NAMES, PERT_COLORS)):
    x0 = 413 + 10.3 * i
    fig.text(fx(x0 + 4.5), fy(565), name, fontsize=4.6, fontweight='bold', ha='center', va='center')
    fig.add_artist(Rectangle((fx(x0), fy(577)), 9 / W, 6 / H, transform=fig.transFigure,
                             facecolor=c, edgecolor='none'))

fig.add_artist(Rectangle((fx(18), fy(614)), 369 / W, 28 / H, transform=fig.transFigure,
                         facecolor='none', edgecolor='black', lw=1))
fig.text(fx(26), fy(596), 'Diagramme des ensembles GEFS sur 384h : 47.4N 10.8E',
         fontsize=8.1, fontweight='bold', va='center', ha='left')
fig.text(fx(26), fy(607), 'Températures 850hPa et 500hPa (°C) , précipitations (mm)', **txt)
fig.text(fx(395), fy(590), 'Ensemble GEFS du 25/01/2019 - 00Z', **txt)
fig.text(fx(395), fy(608), 'Copyright 2019 Meteociel.fr', fontsize=7.3, fontweight='bold',
         va='center', ha='left')

fig.savefig('out.png', dpi=100, facecolor='white')
